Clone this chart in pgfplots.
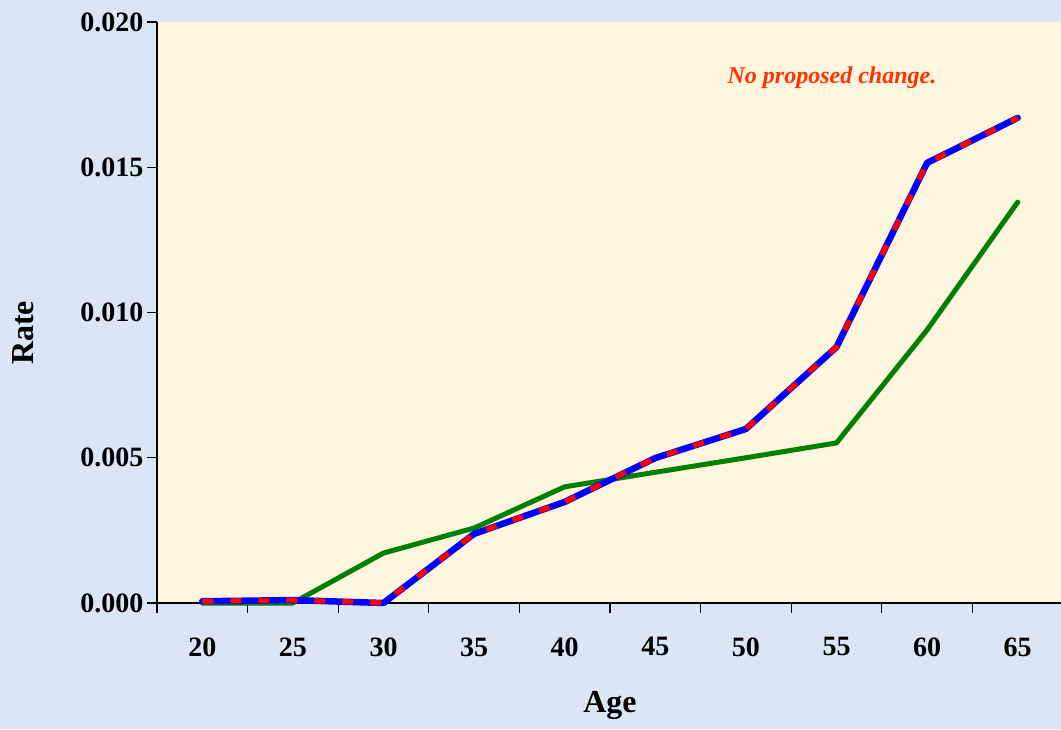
\documentclass[border=0pt]{standalone}
\usepackage{pgfplots}
\pgfplotsset{compat=1.18}
\usepackage{fontspec}
\setmainfont{Liberation Serif}
\definecolor{bgblue}{RGB}{218,230,245}
\definecolor{cream}{RGB}{254,245,222}
\definecolor{lgreen}{RGB}{0,128,0}
\definecolor{annot}{RGB}{255,51,0}
\begin{document}
\begin{tikzpicture}[x=1pt,y=1pt]
\useasboundingbox (0,0) rectangle (1061,729);
\fill[bgblue] (0,0) rectangle (1061,729);
\begin{axis}[
  at={(157pt,126pt)}, anchor=south west,
  width=906pt, height=581pt, scale only axis,
  xmin=-0.5, xmax=9.5, ymin=0, ymax=0.02,
  axis x line*=bottom, axis y line*=left,
  axis line style={-, black, line width=1.2pt},
  every outer x axis line/.append style={-},
  every outer y axis line/.append style={-},
  axis background/.style={fill=cream},
  tick align=outside,
  major tick length=10pt,
  tick style={black, line width=1.2pt},
  xtick={-0.5,0.5,1.5,2.5,3.5,4.5,5.5,6.5,7.5,8.5,9.5},
  xticklabels={},
  extra x ticks={0,1,2,3,4,5,6,7,8,9},
  extra x tick labels={20,25,30,35,40,45,50,55,60,65},
  extra x tick style={major tick length=0pt},
  xticklabel style={yshift=-31pt},
  ytick={0,0.005,0.01,0.015,0.02},
  scaled y ticks=false,
  yticklabel style={/pgf/number format/.cd, fixed, fixed zerofill, precision=3},
  /pgf/number format/assume math mode=true,
  tick label style={font=\fontsize{28}{28}\selectfont\bfseries},
  xlabel={Age},
  xlabel style={at={(axis description cs:0.5,-0.177)}, anchor=center, font=\fontsize{32}{32}\selectfont\bfseries},
  ylabel={Rate},
  ylabel style={at={(axis description cs:-0.148,0.4647)}, anchor=center, font=\fontsize{32}{32}\selectfont\bfseries},
  clip=false,
]
\addplot[lgreen, line width=5pt, line cap=round, line join=round] coordinates {
  (0,0) (1,0) (2,0.00172) (3,0.00258) (4,0.0040) (5,0.0045) (6,0.0050) (7,0.00551) (8,0.0094) (9,0.0138)};
\addplot[blue, line width=6.5pt, line cap=round, line join=round] coordinates {
  (0,0.00006) (1,0.0001) (2,0.0) (3,0.00238) (4,0.00348) (5,0.00499) (6,0.00599) (7,0.00881) (8,0.01515) (9,0.0167)};
\addplot[red, line width=5.2pt, dash pattern=on 11pt off 17pt, line join=round] coordinates {
  (0,0.00006) (1,0.0001) (2,0.0) (3,0.00238) (4,0.00348) (5,0.00499) (6,0.00599) (7,0.00881) (8,0.01515) (9,0.0167)};
\node[font=\fontsize{24}{24}\selectfont\bfseries\itshape, text=annot] at (axis description cs:0.745,0.9036) {No proposed change.};
\end{axis}
\end{tikzpicture}
\end{document}
